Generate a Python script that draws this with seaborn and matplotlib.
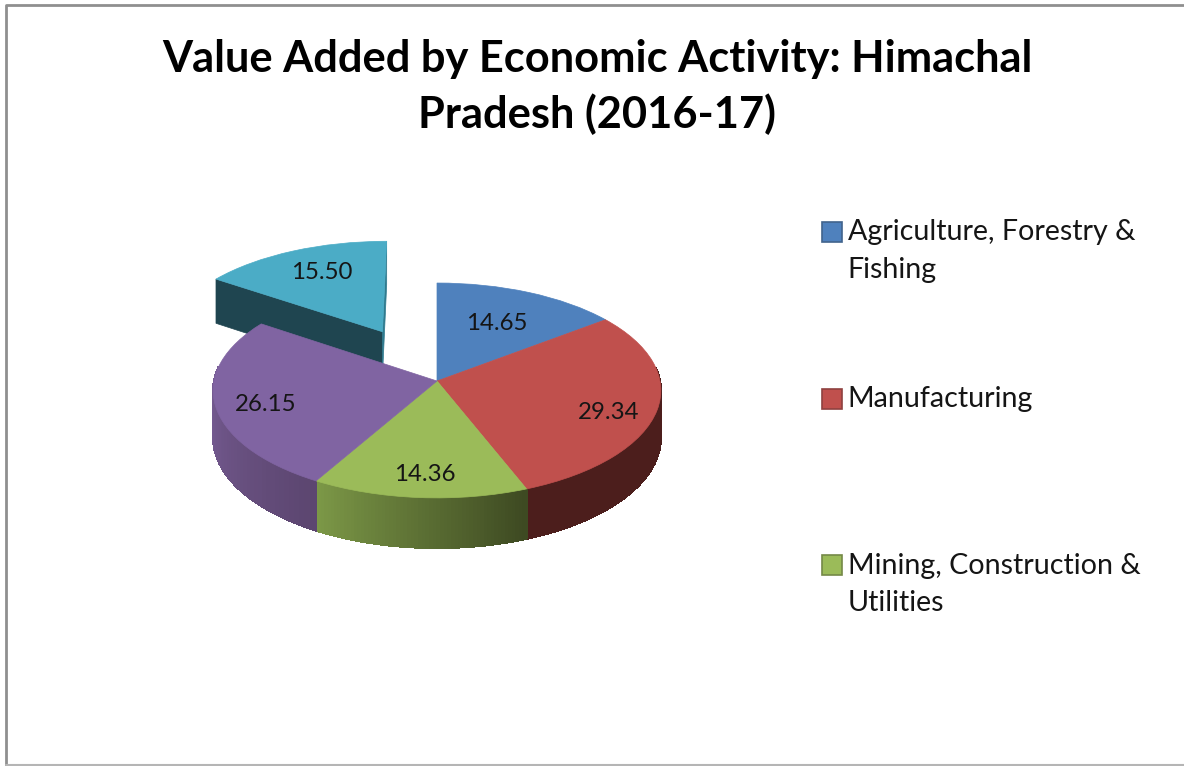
"""
Value added by economic activity, Himachal Pradesh 2016-17 (tilted, exploded pie)
"""

import numpy as np
import matplotlib
matplotlib.use("Agg")
import matplotlib.pyplot as plt
import matplotlib.transforms as mtransforms
from matplotlib.patches import Patch
import seaborn as sns

# ── Data ──────────────────────────────────────────────────────────────────────
activities = ["Agriculture, Forestry &\nFishing", "Manufacturing\n ", "Mining, Construction &\nUtilities"]
shares = [14.65, 29.34, 14.36, 26.15, 15.50]
explode = [0, 0, 0, 0, 0.545]
label_radius = [0.63, 0.785, 0.80, 0.775, 0.71]
label_nudge = [(0, 0), (0, 9), (2, 2), (0, 5), (4, -1)]
title = "Value Added by Economic Activity: Himachal\nPradesh (2016-17)"

FONT = "Lato"
W, H = 1184, 766
CX, CY, RX, RY, TILT = 437, 381, 223, 106.6, 0.088

sns.set_theme(style="white")
plt.rcParams["font.family"] = [FONT, "DejaVu Sans"]
colors = sns.color_palette(["#4f81bd", "#c0504d", "#9bbb59", "#8064a2", "#4bacc6"])


class Tilt(mtransforms.Transform):
    """pie plane (unit circle) -> pixel position, far edge a bit smaller"""
    input_dims = output_dims = 2

    def transform_non_affine(self, xy):
        xy = np.asarray(xy, dtype=float)
        w = 1 + TILT * xy[:, 1]
        return np.c_[CX + RX * xy[:, 0] / w, CY - RY * xy[:, 1] / w]


tilt = Tilt()


def depth(v):
    return 47 * (1 + TILT * v) ** -0.7


def rim(theta, offset=(0, 0)):
    u = np.cos(theta) + offset[0]
    v = np.sin(theta) + offset[1]
    top = tilt.transform_non_affine(np.c_[u, v])
    bottom = top + np.c_[np.zeros_like(v), depth(v)]
    return top, bottom


fig = plt.figure(figsize=(W / 100, H / 100), dpi=100, facecolor="white")
ax = fig.add_axes([0, 0, 1, 1])

# ── Pie tops ──────────────────────────────────────────────────────────────────
wedges, _ = ax.pie(shares, colors=colors, startangle=90, counterclock=False,
                   explode=explode, radius=1, center=(0, 0))
for w, c in zip(wedges, colors):
    w.set_transform(tilt + ax.transData)
    w.set_edgecolor(c)
    w.set_linewidth(0.5)
    w.set_zorder(3)

ends = np.radians(90 - np.cumsum(shares) * 3.6)
starts = np.r_[np.radians(90), ends[:-1]]
mids = (starts + ends) / 2

# ── Side walls ────────────────────────────────────────────────────────────────
wall_shades = {
    1: ["#4c1e1c", "#4c1e1c"],
    2: ["#7c9847", "#3e4a22"],
    3: ["#7a5f98", "#5c4670"],
}
for i, (c_left, c_right) in wall_shades.items():
    theta = np.linspace(ends[i], starts[i], 61)
    theta = theta[np.sin(theta) < 0.15]
    top, bottom = rim(theta)
    shades = sns.blend_palette([c_left, c_right], len(theta) - 1)
    # theta goes anti-clockwise, i.e. left to right along the front
    for j, c in enumerate(shades):
        quad = np.vstack([top[j:j + 2], bottom[j:j + 2][::-1]])
        ax.fill(quad[:, 0], quad[:, 1], color=c, lw=0.8, antialiased=False, zorder=2)

# exploded slice: cut faces only
off = (explode[4] * np.cos(mids[4]), explode[4] * np.sin(mids[4]))
vertex = tilt.transform_non_affine(np.array([off]))
vertex_low = vertex + [[0, depth(off[1])]]
for angle, c in ((starts[4], "#1f4550"), (ends[4], "#2f7a8e")):
    top, bottom = rim(np.array([angle]), off)
    face = np.vstack([vertex, top, bottom, vertex_low])
    ax.fill(face[:, 0], face[:, 1], color=c, lw=0.5, zorder=1)

# ── Value labels ──────────────────────────────────────────────────────────────
for i, value in enumerate(shares):
    pos = [label_radius[i] * np.cos(mids[i]) + explode[i] * np.cos(mids[i]),
           label_radius[i] * np.sin(mids[i]) + explode[i] * np.sin(mids[i])]
    x, y = tilt.transform_non_affine(np.array([pos]))[0]
    ax.text(x + label_nudge[i][0], y + label_nudge[i][1], f"{value:.2f}",
            ha="center", va="center", fontsize=17.3, color="#151515", zorder=5)

# ── Outer frame (left, top, bottom edges of the screenshot) ───────────────────
ax.plot([6, 6, W], [H - 1, 5, 5], color="#8f8f8f", lw=2, zorder=6)
ax.plot([6, W], [H - 1, H - 1], color="#b5b5b5", lw=1.5, zorder=6)

ax.set_aspect("auto")
ax.set_xlim(0, W)
ax.set_ylim(H, 0)
ax.set_axis_off()

# ── Title / legend ────────────────────────────────────────────────────────────
fig.text(597 / W, 1 - 87 / H, title, ha="center", va="center", fontsize=31.2,
         fontweight="bold", color="black", linespacing=1.4)

handles = [Patch(facecolor=c, edgecolor=sns.dark_palette(c, 4)[2], lw=1.2) for c in colors[:3]]
leg = ax.legend(handles, activities, loc="upper left", bbox_to_anchor=(822 / W, 1 - 219 / H),
                frameon=False, fontsize=20.6, handlelength=0.7, handleheight=0.7,
                handletextpad=0.2, labelspacing=3.6, borderpad=0, borderaxespad=0)
for t in leg.get_texts():
    t.set_color("#151515")
    t.set_linespacing(1.56)
# keys sit next to the first line of each label
for h in leg.legend_handles:
    h.set_y(h.get_y() + 14)

fig.savefig("out.png", dpi=100)
